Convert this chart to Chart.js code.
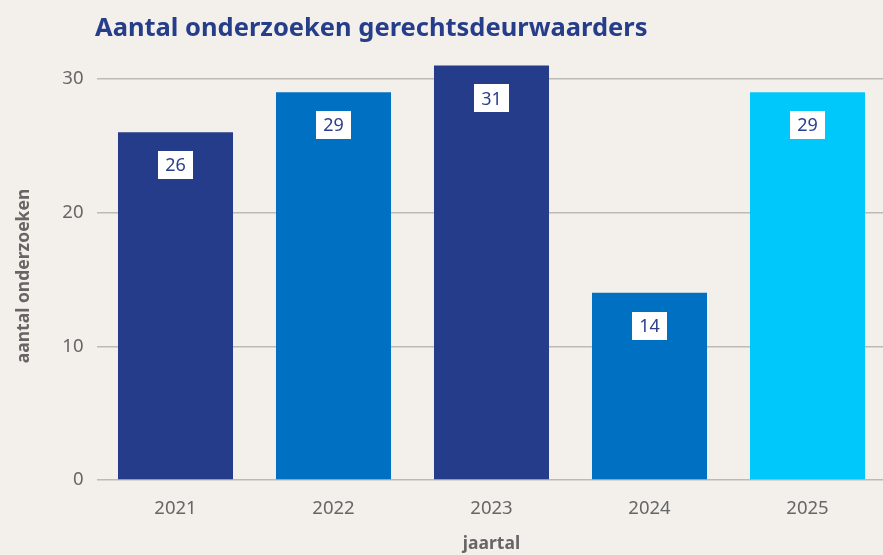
<!DOCTYPE html>
<html>
<head>
<meta charset="utf-8">
<script src="https://cdn.jsdelivr.net/npm/chart.js@4"></script>
<style>
html,body{margin:0;padding:0;background:#F3F0EC;overflow:hidden;width:883px;height:555px;}
canvas{display:block;}
</style>
</head>
<body>
<canvas id="c" width="890" height="555"></canvas>
<script>
const categories = ["2021","2022","2023","2024","2025"];
const values = [26, 29, 31, 14, 29];
const barColors = ["#253C8A","#0071C2","#253C8A","#0071C2","#00C8FA"];
const yTicks = [0, 10, 20, 30];
const titleText = "Aantal onderzoeken gerechtsdeurwaarders";
const yTitle = "aantal onderzoeken";
const xTitle = "jaartal";

const labelPlugin = {
  id: 'valueLabels',
  afterDatasetsDraw(chart) {
    const ctx = chart.ctx;
    const meta = chart.getDatasetMeta(0);
    ctx.save();
    ctx.font = '18px "Noto Sans", sans-serif';
    ctx.textAlign = 'center';
    ctx.textBaseline = 'middle';
    meta.data.forEach((bar, i) => {
      const txt = String(values[i]);
      const w = ctx.measureText(txt).width + 14;
      const h = 28;
      const top = bar.y + 19;
      ctx.fillStyle = '#FFFFFF';
      ctx.fillRect(Math.round(bar.x - w / 2), Math.round(top), Math.round(w), h);
      ctx.fillStyle = '#2B3F8C';
      ctx.fillText(txt, bar.x, top + h / 2 + 1);
    });
    ctx.restore();
  }
};

const titlePlugin = {
  id: 'leftTitle',
  afterDraw(chart) {
    const ctx = chart.ctx;
    ctx.save();
    ctx.font = 'bold 25.5px "Noto Sans", sans-serif';
    ctx.fillStyle = '#263D8A';
    ctx.textAlign = 'left';
    ctx.textBaseline = 'alphabetic';
    ctx.fillText(titleText, 95, 36);
    // y axis title
    ctx.font = 'bold 17.5px "Noto Sans", sans-serif';
    ctx.fillStyle = '#666666';
    ctx.textAlign = 'center';
    ctx.textBaseline = 'middle';
    ctx.translate(24, 276);
    ctx.rotate(-Math.PI / 2);
    ctx.fillText(yTitle, 0, 0);
    ctx.restore();
  }
};

new Chart(document.getElementById('c'), {
  type: 'bar',
  data: {
    labels: categories,
    datasets: [{
      data: values,
      backgroundColor: barColors,
      borderWidth: 0,
      categoryPercentage: 1,
      barPercentage: 0.728
    }]
  },
  options: {
    responsive: false,
    animation: false,
    events: [],
    layout: { padding: { left: 0, right: 3.5, top: 52, bottom: 0 } },
    plugins: {
      legend: { display: false },
      title: { display: false },
      tooltip: { enabled: false }
    },
    scales: {
      x: {
        grid: { display: false },
        border: { display: false },
        ticks: {
          color: '#666666',
          font: { family: '"Noto Sans", sans-serif', size: 18.5 },
          padding: 10
        },
        title: {
          display: true,
          text: xTitle,
          color: '#666666',
          font: { family: '"Noto Sans", sans-serif', size: 17.5, weight: 'bold' },
          padding: { top: 6, bottom: 0 }
        },
        afterFit(s) { s.height = 75; }
      },
      y: {
        min: 0,
        max: 32,
        grid: { color: '#BDBAB6', lineWidth: 1.5, drawTicks: false },
        border: { display: false },
        ticks: {
          stepSize: 10,
          color: '#666666',
          font: { family: '"Noto Sans", sans-serif', size: 18.5 },
          padding: 13
        },
        afterBuildTicks(s) { s.ticks = yTicks.map(v => ({ value: v })); },
        title: { display: false },
        afterFit(s) { s.width = 96.5; }
      }
    }
  },
  plugins: [labelPlugin, titlePlugin]
});
</script>
</body>
</html>
